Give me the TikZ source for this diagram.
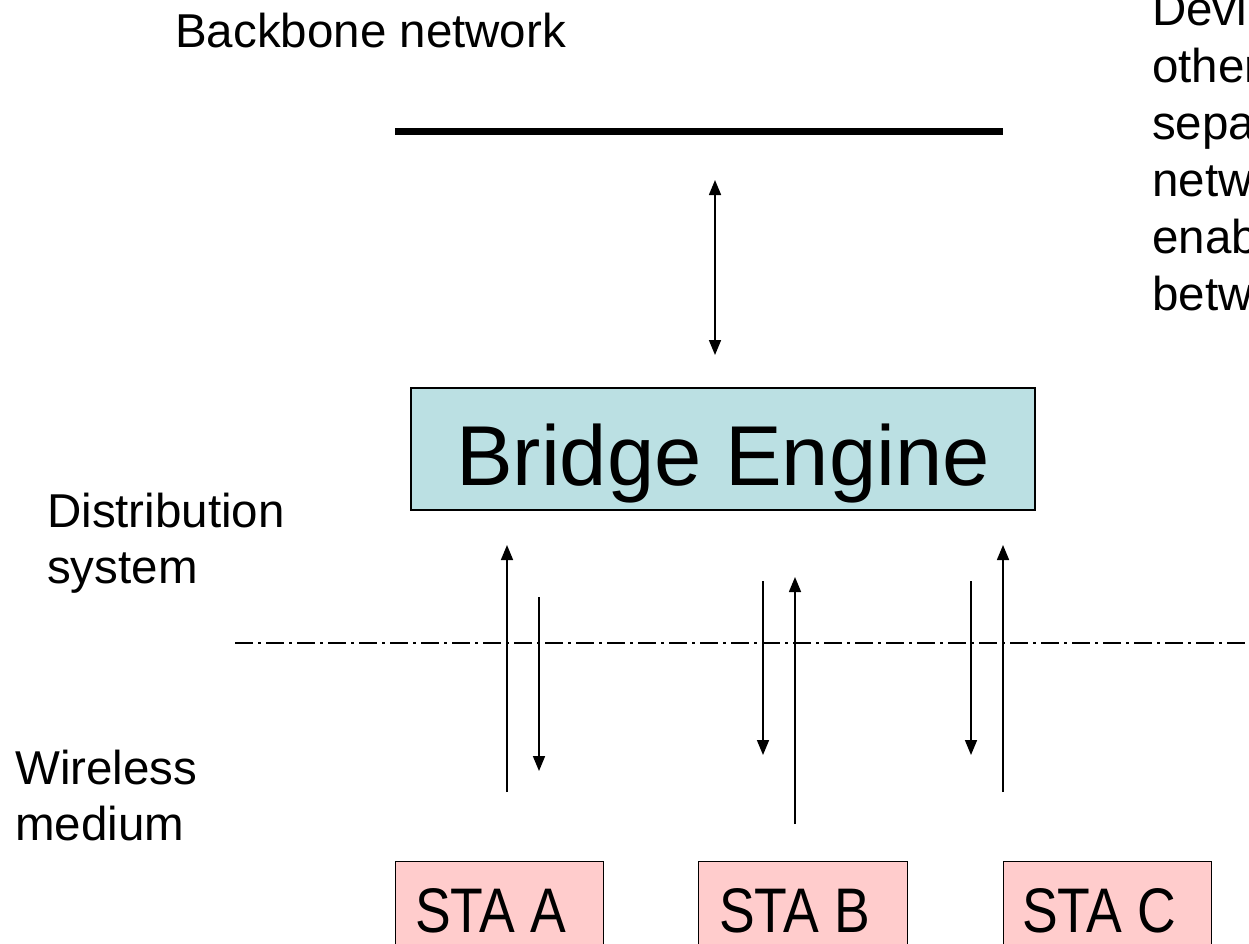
\documentclass[tikz,border=0pt]{standalone}
\usepackage{fontspec}
\setmainfont{Liberation Sans}
\usetikzlibrary{arrows.meta}
\definecolor{bridgefill}{HTML}{BBE0E3}
\definecolor{stafill}{HTML}{FFCCCC}
\tikzset{
  lbl/.style={anchor=base west, inner sep=0pt, font=\fontsize{47.5}{57}\selectfont},
  flow/.style={line width=1.6pt, -{Triangle[length=15pt,width=12pt]}},
  staBox/.style={draw, line width=1.4pt, fill=stafill},
  staText/.style={anchor=base west, inner sep=0pt, font=\fontsize{63}{70}\selectfont},
}
\begin{document}
\begin{tikzpicture}[x=1pt,y=-1pt]
\clip (0,0) rectangle (1249,943);

% labels
\node[lbl] (bb) at (175,47) {Backbone network};
\node[lbl] (ds1) at (47,527) {Distribution};
\node[lbl] (ds2) at (47,583) {system};
\node[lbl] (wm1) at (15,784) {Wireless};
\node[lbl] (wm2) at (15,840) {medium};
\node[lbl] (r1) at (1152,25) {Devices};
\node[lbl] (r2) at (1152,82) {other};
\node[lbl] (r3) at (1152,139) {separate};
\node[lbl] (r4) at (1152,196) {network};
\node[lbl] (r5) at (1152,253) {enable};
\node[lbl] (r6) at (1152,310) {between};

% backbone bus
\coordinate (busL) at (395,131);
\coordinate (busR) at (1003,131);
\draw[line width=7pt] (busL) -- (busR);

% bridge engine
\node[draw, line width=1.4pt, fill=bridgefill, minimum width=624pt, minimum height=122pt, inner sep=0pt] (be) at (723,449) {};
\node[anchor=base, inner sep=0pt, font=\fontsize{85}{90}\selectfont] (beT) at (723,485) {Bridge Engine};

% link between backbone and bridge
\coordinate (upT) at (715,180);
\coordinate (upB) at (715,355);
\draw[line width=1.6pt, {Triangle[length=15pt,width=12pt]}-{Triangle[length=15pt,width=12pt]}] (upT) -- (upB);

% boundary between distribution system and wireless medium
\coordinate (dsL) at (235,643);
\coordinate (dsR) at (1260,643);
\draw[line width=1.5pt, dash pattern=on 18pt off 5pt on 3pt off 5pt] (dsL) -- (dsR);

% stations
\node[staBox, minimum width=208pt, minimum height=100pt, anchor=north west] (staA) at (395,861) {};
\node[staBox, minimum width=209pt, minimum height=100pt, anchor=north west] (staB) at (698,861) {};
\node[staBox, minimum width=208pt, minimum height=100pt, anchor=north west] (staC) at (1003,861) {};
\node[staText] (tA) at (415,932) {\scalebox{0.85}[1]{STA A}};
\node[staText] (tB) at (719,932) {\scalebox{0.85}[1]{STA B}};
\node[staText] (tC) at (1022,932) {\scalebox{0.85}[1]{STA C}};

% frame flows
\coordinate (a1s) at (507,792); \coordinate (a1e) at (507,545);
\coordinate (a2s) at (539,597); \coordinate (a2e) at (539,771);
\coordinate (b1s) at (763,581); \coordinate (b1e) at (763,755);
\coordinate (b2s) at (795,824); \coordinate (b2e) at (795,577);
\coordinate (c1s) at (971,581); \coordinate (c1e) at (971,755);
\coordinate (c2s) at (1003,792); \coordinate (c2e) at (1003,545);
\draw[flow] (a1s) -- (a1e);
\draw[flow] (a2s) -- (a2e);
\draw[flow] (b1s) -- (b1e);
\draw[flow] (b2s) -- (b2e);
\draw[flow] (c1s) -- (c1e);
\draw[flow] (c2s) -- (c2e);
\end{tikzpicture}
\end{document}
